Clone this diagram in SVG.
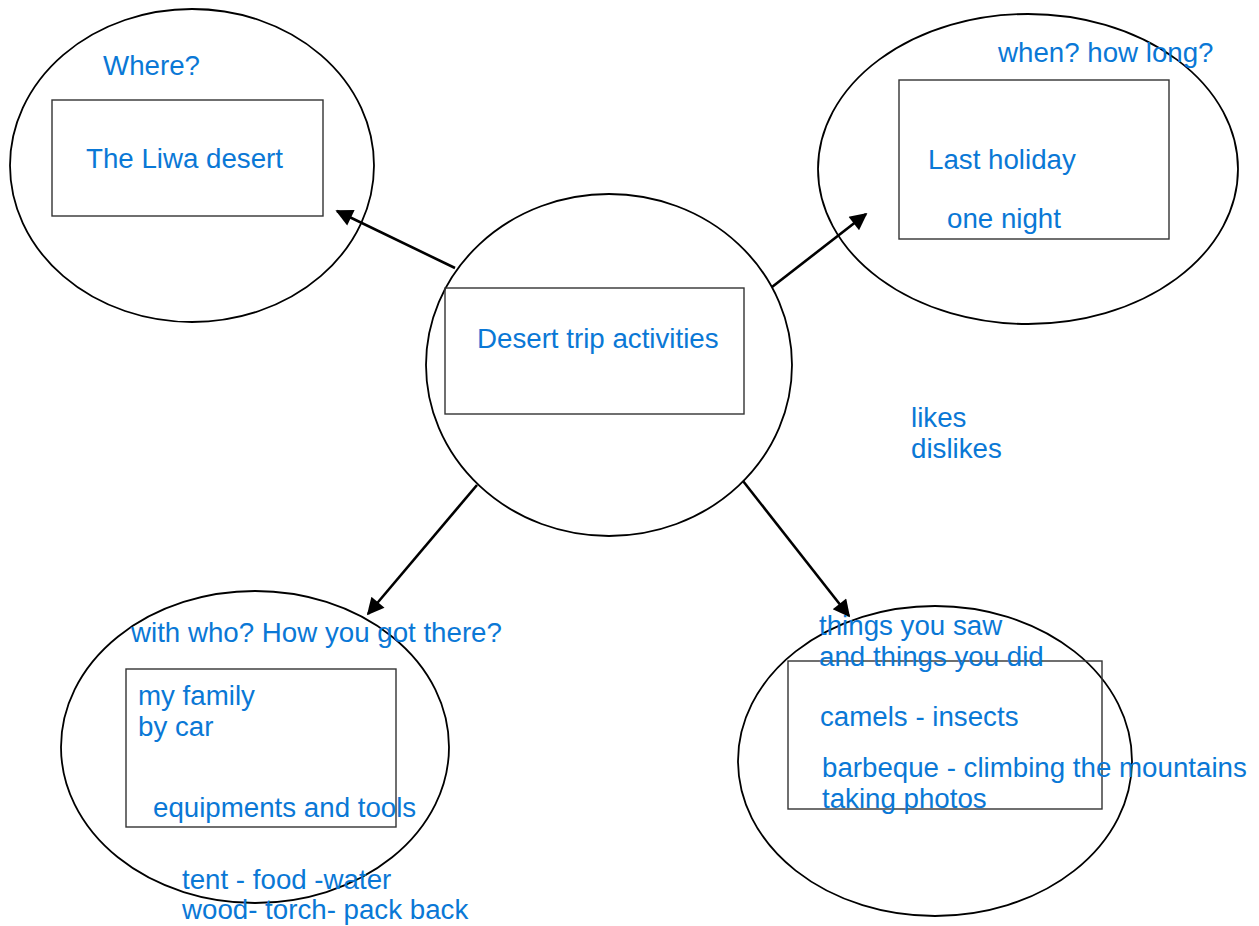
<svg xmlns="http://www.w3.org/2000/svg" width="1259" height="926" viewBox="0 0 1259 926">
<style>
.ell{fill:none;stroke:#000;stroke-width:1.8}
.box{fill:none;stroke:#333;stroke-width:1.4}
.t{font-family:"Liberation Sans",Arial,sans-serif;font-size:27.7px;fill:#0a78d6}
.con{stroke:#000;stroke-width:2.6;fill:none}
</style>
<defs>
<marker id="ah" viewBox="0 0 10 10" refX="9" refY="5" markerWidth="8" markerHeight="6.6" markerUnits="strokeWidth" orient="auto">
<path d="M0,0 L10,5 L0,10 z" fill="#000"/>
</marker>
</defs>
<rect width="1259" height="926" fill="#fff"/>
<g id="connectors">
<line class="con" x1="455" y1="268" x2="337" y2="211" marker-end="url(#ah)"/>
<line class="con" x1="772" y1="287" x2="866" y2="214" marker-end="url(#ah)"/>
<line class="con" x1="477" y1="485" x2="368" y2="614" marker-end="url(#ah)"/>
<line class="con" x1="743" y1="481" x2="849" y2="616" marker-end="url(#ah)"/>
</g>
<g id="node-where">
<ellipse class="ell" cx="192" cy="165.5" rx="182" ry="156.5"/>
<rect class="box" x="52" y="100" width="271" height="116"/>
<text class="t" x="103" y="75">Where?</text>
<text class="t" x="86" y="168">The Liwa desert</text>
</g>
<g id="node-when">
<ellipse class="ell" cx="1028" cy="169" rx="210" ry="155"/>
<rect class="box" x="899" y="80" width="270" height="159"/>
<text class="t" x="998" y="62">when? how long?</text>
<text class="t" x="928" y="169">Last holiday</text>
<text class="t" x="947" y="228">one night</text>
</g>
<g id="node-center">
<ellipse class="ell" cx="609" cy="365" rx="183" ry="171"/>
<rect class="box" x="445" y="288" width="299" height="126"/>
<text class="t" x="477" y="348">Desert trip activities</text>
</g>
<g id="node-likes">
<text class="t" x="911" y="427">likes</text>
<text class="t" x="911" y="458">dislikes</text>
</g>
<g id="node-who">
<ellipse class="ell" cx="255" cy="747" rx="194" ry="156"/>
<rect class="box" x="126" y="669" width="270" height="158"/>
<text class="t" x="131" y="642">with who? How you got there?</text>
<text class="t" x="138" y="705">my family</text>
<text class="t" x="138" y="736">by car</text>
<text class="t" x="153" y="817">equipments and tools</text>
<text class="t" x="182" y="889">tent - food -water</text>
<text class="t" x="182" y="919">wood- torch- pack back</text>
</g>
<g id="node-things">
<ellipse class="ell" cx="935" cy="761" rx="197" ry="155"/>
<rect class="box" x="788" y="661" width="314" height="148"/>
<text class="t" x="819" y="635">things you saw</text>
<text class="t" x="819" y="666">and things you did</text>
<text class="t" x="820" y="726">camels - insects</text>
<text class="t" x="822" y="777">barbeque - climbing the mountains</text>
<text class="t" x="822" y="808">taking photos</text>
</g>
</svg>
